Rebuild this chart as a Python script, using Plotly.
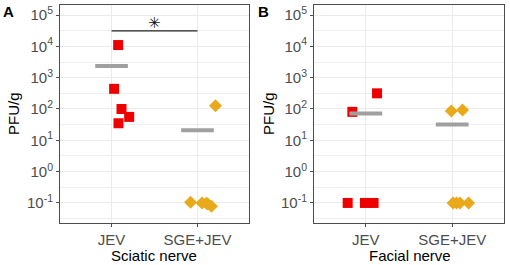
import numpy as np
import plotly.graph_objects as go

categories = ["JEV", "SGE+JEV"]

# Panel A: Sciatic nerve
a_jev = [11000, 440, 100, 56, 35]
a_jev_jit = [0.077, 0.03, 0.116, 0.205, 0.081]
a_sge = [126, 0.105, 0.10, 0.097, 0.092, 0.078]
a_sge_jit = [0.21, -0.08, 0.054, 0.105, 0.12, 0.163]
a_means = [2350, 21]

# Panel B: Facial nerve
b_jev = [316, 81, 0.1, 0.1, 0.1]
b_jev_jit = [0.13, -0.156, -0.21, -0.01, 0.09]
b_sge = [87, 93, 0.1, 0.1, 0.1, 0.1]
b_sge_jit = [-0.01, 0.12, 0.01, 0.05, 0.09, 0.19]
b_means = [72, 32]

sig_y = 31000
sig_star_y = 56000

ytick_exp = [-1, 0, 1, 2, 3, 4, 5]

RED = "#EE0000"
ORANGE = "#E9A91B"
GREY = "#A0A0A0"
FONT = "Liberation Sans, Arial, sans-serif"

fig = go.Figure()


def add_panel(xa, ya, jev, jev_jit, sge, sge_jit, means):
    fig.add_trace(go.Scatter(
        x=[0 + j for j in jev_jit], y=jev, mode="markers",
        marker=dict(symbol="square", size=10, color=RED, line=dict(width=0)),
        xaxis=xa, yaxis=ya, showlegend=False, hoverinfo="skip"))
    fig.add_trace(go.Scatter(
        x=[1 + j for j in sge_jit], y=sge, mode="markers",
        marker=dict(symbol="diamond", size=10, color=ORANGE, line=dict(width=0)),
        xaxis=xa, yaxis=ya, showlegend=False, hoverinfo="skip"))
    for i, m in enumerate(means):
        fig.add_trace(go.Scatter(
            x=[i - 0.19, i + 0.19], y=[m, m], mode="lines",
            line=dict(color=GREY, width=4),
            xaxis=xa, yaxis=ya, showlegend=False, hoverinfo="skip"))


add_panel("x", "y", a_jev, a_jev_jit, a_sge, a_sge_jit, a_means)
add_panel("x2", "y2", b_jev, b_jev_jit, b_sge, b_sge_jit, b_means)

# significance bracket in panel A
fig.add_trace(go.Scatter(x=[0, 1], y=[sig_y, sig_y], mode="lines",
                         line=dict(color="#222222", width=1.2),
                         xaxis="x", yaxis="y", showlegend=False, hoverinfo="skip"))
fig.add_annotation(x=0.5, y=np.log10(sig_star_y), xref="x", yref="y", text="✳",
                   xanchor="center", yanchor="middle",
                   showarrow=False, font=dict(family="DejaVu Sans", size=15, color="#111111"))

ydom = [1 - 223 / 265, 1 - 5 / 265]
xdomA = [60 / 510, 249 / 510]
xdomB = [314 / 510, 504 / 510]

tickvals = [10.0 ** e for e in ytick_exp]
ticktext = ["10<sup>%d</sup>" % e for e in ytick_exp]
minor_vals = [10.0 ** (e + 0.5) for e in range(-2, 6)]

common_y = dict(type="log", range=[-1.64, 5.32], tickvals=tickvals, ticktext=ticktext,
                showgrid=True, gridcolor="#EBEBEB", gridwidth=1.1,
                minor=dict(tickvals=minor_vals, showgrid=True, gridcolor="#EFEFEF", gridwidth=0.6,
                           ticks=""),
                zeroline=False, showline=True, mirror=True, linecolor="#4D4D4D", linewidth=1,
                ticks="outside", ticklen=3, tickcolor="#4D4D4D",
                tickfont=dict(family=FONT, size=15, color="#4D4D4D"),
                automargin=False, domain=ydom)
common_x = dict(range=[-0.6, 1.6], tickvals=[0, 1], ticktext=categories,
                showgrid=True, gridcolor="#EBEBEB", gridwidth=1.1, zeroline=False,
                showline=True, mirror=True, linecolor="#4D4D4D", linewidth=1,
                ticks="outside", ticklen=3, tickcolor="#4D4D4D",
                tickfont=dict(family=FONT, size=15, color="#4D4D4D"),
                automargin=False)

fig.update_layout(
    width=510, height=265,
    margin=dict(l=0, r=0, t=0, b=0),
    paper_bgcolor="white", plot_bgcolor="white",
    template="none",
    xaxis=dict(common_x, domain=xdomA, anchor="y"),
    xaxis2=dict(common_x, domain=xdomB, anchor="y2"),
    yaxis=dict(common_y, anchor="x"),
    yaxis2=dict(common_y, anchor="x2"),
)

# axis titles and panel letters
ann = [
    dict(x=13 / 510, y=1 - 114 / 265, text="PFU/g", textangle=-90),
    dict(x=268 / 510, y=1 - 114 / 265, text="PFU/g", textangle=-90),
    dict(x=154 / 510, y=1 - 255 / 265, text="Sciatic nerve"),
    dict(x=410 / 510, y=1 - 255 / 265, text="Facial nerve"),
]
for a in ann:
    fig.add_annotation(xref="paper", yref="paper", showarrow=False,
                       xanchor="center", yanchor="middle",
                       font=dict(family=FONT, size=15, color="black"), **a)
for x, t in [(8, "A"), (263, "B")]:
    fig.add_annotation(xref="paper", yref="paper", x=x / 510, y=1 - 12 / 265, text="<b>%s</b>" % t,
                       xanchor="center", yanchor="middle",
                       showarrow=False, font=dict(family=FONT, size=15, color="black"))

fig.write_html("out.html", config={"displayModeBar": False},
               post_script="document.body.style.margin='0';document.body.style.overflow='hidden';")
